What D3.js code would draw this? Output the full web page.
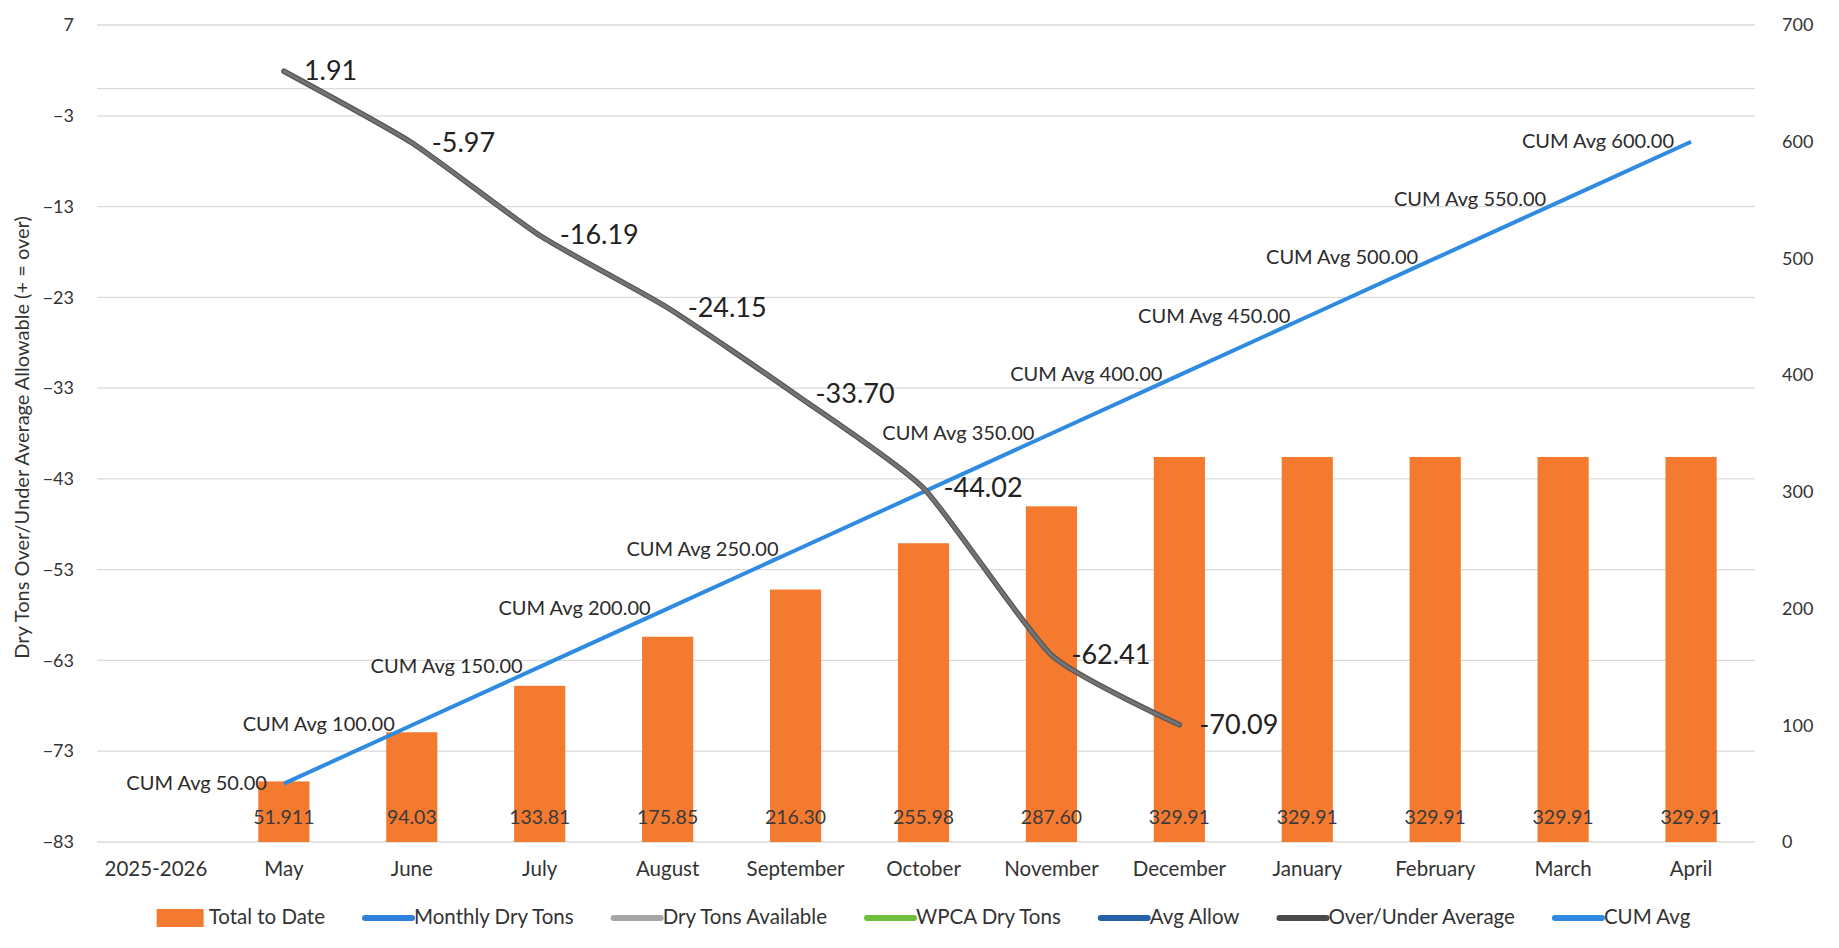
<!DOCTYPE html>
<html>
<head>
<meta charset="utf-8">
<script src="https://cdn.jsdelivr.net/npm/d3@7"></script>
<style>
  body { margin: 0; background: #fff; }
  text { font-family: Lato, "Open Sans", sans-serif; }
</style>
</head>
<body>
<div id="chart"></div>
<script>
var categories = ["2025-2026", "May", "June", "July", "August", "September", "October",
    "November", "December", "January", "February", "March", "April"];
var totalToDate = [null, 51.911, 94.03, 133.81, 175.85, 216.30, 255.98, 287.60, 329.91,
    329.91, 329.91, 329.91, 329.91];
var totalLabels = ["", "51.911", "94.03", "133.81", "175.85", "216.30", "255.98", "287.60",
    "329.91", "329.91", "329.91", "329.91", "329.91"];
var cumAvg = [null, 50, 100, 150, 200, 250, 300, 350, 400, 450, 500, 550, 600];
var cumHiddenLabels = [300]; // this label is not shown in the original
var overUnder = [null, 1.91, -5.97, -16.19, -24.15, -33.70, -44.02, -62.41, -70.09,
    null, null, null, null];
var leftTicks = [7, -3, -13, -23, -33, -43, -53, -63, -73, -83];
var rightTicks = [0, 100, 200, 300, 400, 500, 600, 700];
var legendNames = ["Total to Date", "Monthly Dry Tons", "Dry Tons Available", "WPCA Dry Tons",
    "Avg Allow", "Over/Under Average", "CUM Avg"];
var legendColors = ["#f47a30", "#2f80da", "#a6a6a6", "#6fbf3e", "#2461a8", "#4a4a4a", "#2f8ae2"];

const width = 1839;
const height = 948;
const plotTop = 25, plotBottom = 842, plotLeft = 92, plotRight = 1755;

const svg = d3.select("#chart").append("svg")
    .attr("width", width)
    .attr("height", height);

var x = d3.scaleBand().domain(categories).range([plotLeft, plotRight]);
var yL = d3.scaleLinear().domain([-83, 7]).range([plotBottom, plotTop]);
var yR = d3.scaleLinear().domain([0, 700]).range([plotBottom, plotTop]);

// gridlines (plus the zero line of the left axis)
svg.append("g").selectAll("line")
    .data(leftTicks.concat([0]))
    .enter().append("line")
    .attr("x1", plotLeft + 5).attr("x2", plotRight)
    .attr("y1", d => yL(d)).attr("y2", d => yL(d))
    .attr("stroke", "#dadada").attr("stroke-width", 1.3);

// left axis
var axL = svg.append("g").attr("transform", `translate(${plotLeft - 8},0)`)
    .call(d3.axisLeft(yL).tickValues(leftTicks).tickSize(0).tickPadding(10));
axL.select(".domain").remove();
axL.selectAll("text").attr("font-size", 18).attr("fill", "#333")
    .style("font-family", "Lato, sans-serif");

// right axis
var axR = svg.append("g").attr("transform", `translate(${plotRight + 17},0)`)
    .call(d3.axisRight(yR).tickValues(rightTicks).tickSize(0).tickPadding(10));
axR.select(".domain").remove();
axR.selectAll("text").attr("font-size", 18).attr("fill", "#333")
    .style("font-family", "Lato, sans-serif");

// category axis
var axB = svg.append("g").attr("transform", `translate(0,${plotBottom + 7})`)
    .call(d3.axisBottom(x).tickSize(0).tickPadding(12));
axB.select(".domain").remove();
axB.selectAll("text").attr("font-size", 20.5).attr("fill", "#333")
    .style("font-family", "Lato, sans-serif");

// y title
svg.append("text")
    .attr("transform", `translate(24,${(plotTop + plotBottom) / 2 + 4}) rotate(-90)`)
    .attr("text-anchor", "middle")
    .attr("dominant-baseline", "middle")
    .attr("font-size", 20)
    .attr("fill", "#333")
    .text("Dry Tons Over/Under Average Allowable (+ = over)");

// bars
var barW = x.bandwidth() * 0.4;
var barData = categories.map((c, i) => ({cat: c, v: totalToDate[i], label: totalLabels[i]}))
    .filter(d => d.v != null);

svg.append("g").selectAll("rect")
    .data(barData)
    .enter().append("rect")
    .attr("x", d => x(d.cat) + (x.bandwidth() - barW) / 2)
    .attr("width", barW)
    .attr("y", d => yR(d.v))
    .attr("height", d => yR(0) - yR(d.v))
    .attr("fill", "#f47a30");

svg.append("g").selectAll("text")
    .data(barData)
    .enter().append("text")
    .attr("x", d => x(d.cat) + x.bandwidth() / 2)
    .attr("y", yR(0) - 18)
    .attr("text-anchor", "middle")
    .attr("font-size", 19.5)
    .attr("fill", "#3a3a3a")
    .text(d => d.label);

// CUM Avg line
var cumData = categories.map((c, i) => ({cat: c, v: cumAvg[i]})).filter(d => d.v != null);
var cx = d => x(d.cat) + x.bandwidth() / 2;

svg.append("path")
    .datum(cumData)
    .attr("fill", "none")
    .attr("stroke", "#2f8ae2")
    .attr("stroke-width", 4)
    .attr("d", d3.line().x(cx).y(d => yR(d.v)));

svg.append("g").selectAll("text")
    .data(cumData.filter(d => cumHiddenLabels.indexOf(d.v) < 0))
    .enter().append("text")
    .attr("x", d => cx(d) - 17)
    .attr("y", d => yR(d.v) + 1)
    .attr("text-anchor", "end")
    .attr("dominant-baseline", "middle")
    .attr("font-size", 20)
    .attr("fill", "#2b2b2b")
    .text(d => "CUM Avg " + d.v.toFixed(2));

// Over/Under Average line
var ouData = categories.map((c, i) => ({cat: c, v: overUnder[i]})).filter(d => d.v != null);
var ouLine = d3.line().x(cx).y(d => yL(d.v)).curve(d3.curveCardinal.tension(0.45));

svg.append("path")
    .datum(ouData)
    .attr("fill", "none")
    .attr("stroke", "#565656")
    .attr("stroke-width", 5.5)
    .attr("stroke-linecap", "round")
    .attr("d", ouLine);
svg.append("path")
    .datum(ouData)
    .attr("fill", "none")
    .attr("stroke", "#747474")
    .attr("stroke-width", 3)
    .attr("stroke-linecap", "round")
    .attr("d", ouLine);

svg.append("g").selectAll("text")
    .data(ouData)
    .enter().append("text")
    .attr("x", d => cx(d) + 20)
    .attr("y", d => yL(d.v) + 2)
    .attr("dominant-baseline", "middle")
    .attr("font-size", 27)
    .attr("fill", "#222")
    .text(d => d.v.toFixed(2));

// legend
var legend = svg.append("g");
var lx = 0, gap = 37;
legendNames.forEach((name, i) => {
    var g = legend.append("g").attr("transform", `translate(${lx},0)`);
    if (i === 0) {
        g.append("rect").attr("x", 0).attr("y", -9).attr("width", 47).attr("height", 18)
            .attr("fill", legendColors[i]);
    } else {
        g.append("line").attr("x1", 3).attr("x2", 50).attr("y1", 0).attr("y2", 0)
            .attr("stroke", legendColors[i]).attr("stroke-width", 6)
            .attr("stroke-linecap", "round");
    }
    var t = g.append("text").attr("x", 52).attr("y", 1)
        .attr("dominant-baseline", "middle")
        .attr("font-size", 20.5).attr("fill", "#333")
        .text(name);
    lx += 52 + t.node().getComputedTextLength() + gap;
});
var legendW = lx - gap;
legend.attr("transform", `translate(${(plotLeft + plotRight) / 2 - legendW / 2},918)`);
</script>
</body>
</html>
